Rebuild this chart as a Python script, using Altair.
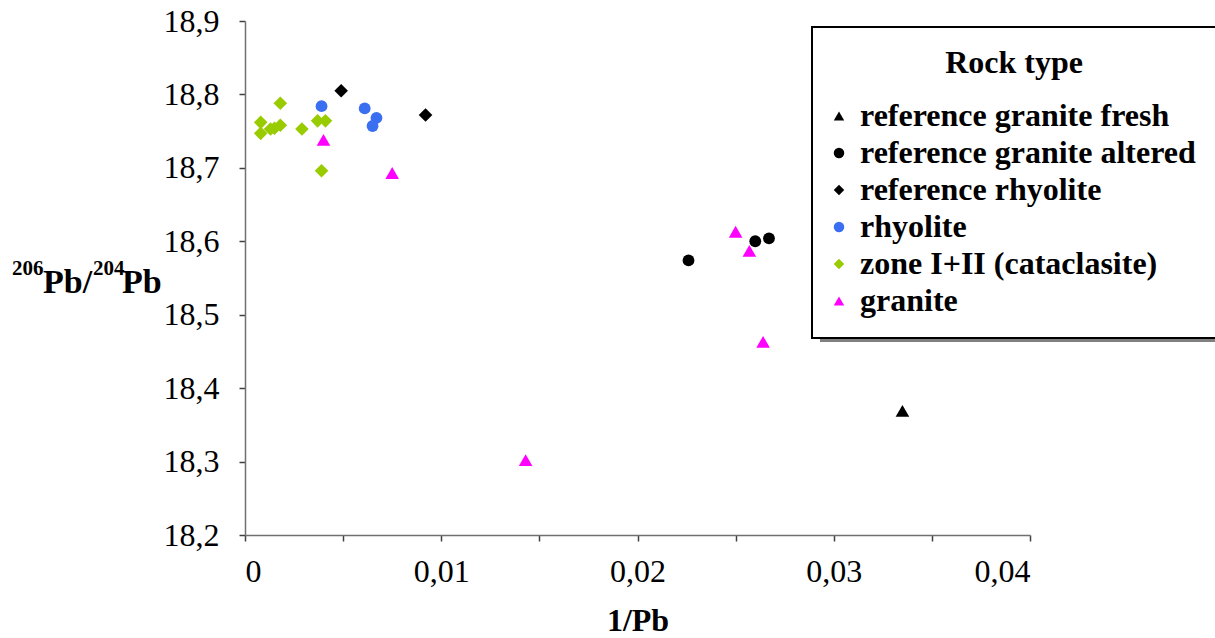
import altair as alt
import pandas as pd

# ---- data ----
categories = ["reference granite fresh", "reference granite altered", "reference rhyolite",
              "rhyolite", "zone I+II (cataclasite)", "granite"]
shapes = ["triangle-up", "circle", "diamond", "circle", "diamond", "triangle-up"]
colors = ["#000000", "#000000", "#000000", "#3b6ff2", "#99cc00", "#ff00ff"]

ref_granite_fresh_x = [0.0335]
ref_granite_fresh_y = [18.369]

ref_granite_altered_x = [0.0226, 0.0260, 0.0267]
ref_granite_altered_y = [18.574, 18.600, 18.604]

ref_rhyolite_x = [0.0049, 0.0092]
ref_rhyolite_y = [18.805, 18.772]

rhyolite_x = [0.0039, 0.0061, 0.0067, 0.0065]
rhyolite_y = [18.784, 18.781, 18.768, 18.757]

zone_x = [0.0008, 0.0008, 0.0013, 0.0015, 0.0018, 0.0018, 0.0029, 0.0037, 0.0041, 0.0039]
zone_y = [18.762, 18.747, 18.753, 18.754, 18.758, 18.788, 18.753, 18.764, 18.764, 18.696]

granite_x = [0.0040, 0.0075, 0.0143, 0.0250, 0.0257, 0.0264]
granite_y = [18.738, 18.693, 18.302, 18.613, 18.587, 18.463]

series = [
    (categories[0], ref_granite_fresh_x, ref_granite_fresh_y),
    (categories[1], ref_granite_altered_x, ref_granite_altered_y),
    (categories[2], ref_rhyolite_x, ref_rhyolite_y),
    (categories[3], rhyolite_x, rhyolite_y),
    (categories[4], zone_x, zone_y),
    (categories[5], granite_x, granite_y),
]
rows = []
for name, xs, ys in series:
    for xv, yv in zip(xs, ys):
        rows.append({"type": name, "invPb": xv, "ratio": yv,
                     "round": shapes[categories.index(name)] == "circle"})
df = pd.DataFrame(rows)

x_ticks = [0, 0.005, 0.01, 0.015, 0.02, 0.025, 0.03, 0.035, 0.04]
y_ticks = [18.2, 18.3, 18.4, 18.5, 18.6, 18.7, 18.8, 18.9]

# y-axis title pieces (206Pb/204Pb with superscripts)
ytitle_text = ["206", "Pb/", "204", "Pb"]
ytitle_size = [21, 34, 21, 34]
ytitle_x = [-233, -202, -152, -123]
ytitle_y = [254, 272, 254, 272]

FONT = "Liberation Serif"
W, H = 785, 514
LX, LY = 567, 6          # legend position inside plot coords
LW, LH = 401, 307        # legend box size (for shadow)
SH = 8                   # shadow offset

legend = alt.Legend(orient="none", legendX=LX, legendY=LY, symbolSize=110,
                    symbolOffset=-10)

base = alt.Chart(df).encode(
    x=alt.X("invPb:Q", title="1/Pb",
            scale=alt.Scale(domain=[0, 0.04], nice=False, zero=False),
            axis=alt.Axis(values=x_ticks,
                          labelExpr="round(datum.value*1000) % 10 != 0 ? '' : (datum.value == 0 ? '0' : replace(format(datum.value, '.2f'), '.', ','))")),
    y=alt.Y("ratio:Q", title=None,
            scale=alt.Scale(domain=[18.2, 18.9], nice=False, zero=False),
            axis=alt.Axis(values=y_ticks,
                          labelExpr="replace(format(datum.value, '.1f'), '.', ',')")),
    color=alt.Color("type:N", title="Rock type",
                    scale=alt.Scale(domain=categories, range=colors), legend=legend),
    shape=alt.Shape("type:N", title="Rock type",
                    scale=alt.Scale(domain=categories, range=shapes), legend=legend),
)
pts_round = base.transform_filter("datum.round").mark_point(filled=True, opacity=1, size=140)
pts_other = base.transform_filter("!datum.round").mark_point(filled=True, opacity=1, size=185)

shadow = alt.Chart(pd.DataFrame({"k": [0]})).mark_rect(color="#808080").encode(
    x=alt.value(LX + SH), x2=alt.value(LX + LW + SH),
    y=alt.value(LY + SH), y2=alt.value(LY + LH + SH),
)

title_layers = []
for t, s, xx, yy in zip(ytitle_text, ytitle_size, ytitle_x, ytitle_y):
    title_layers.append(
        alt.Chart(pd.DataFrame({"t": [t]})).mark_text(
            font=FONT, fontSize=s, fontWeight="bold", color="black",
            align="left", baseline="alphabetic",
        ).encode(text="t:N", x=alt.value(xx), y=alt.value(yy))
    )

chart = alt.layer(shadow, pts_other, pts_round, *title_layers).properties(
    width=W, height=H,
    autosize=alt.AutoSizeParams(type="none"),
    padding={"left": 245, "top": 21, "right": 185, "bottom": 103},
).configure_view(stroke=None).configure_axis(
    grid=False,
    domainColor="#707070", domainWidth=1.5,
    tickColor="#404040", tickSize=6, tickWidth=1.5,
    labelFont=FONT, labelFontSize=32, labelColor="black",
    titleFont=FONT, titleFontSize=32, titleFontWeight="bold", titleColor="black",
).configure_axisY(labelPadding=20).configure_axisX(labelPadding=15, titlePadding=18).configure_legend(
    strokeColor="black", strokeWidth=2, fillColor="white", padding=21,
    titleFont=FONT, titleFontSize=32, titleFontWeight="bold", titleColor="black",
    titleAnchor="middle", titlePadding=20,
    labelFont=FONT, labelFontSize=32, labelFontWeight="bold", labelColor="black",
    rowPadding=5, labelOffset=5, labelLimit=600,
    symbolStrokeWidth=0,
)

chart.save("out.html", embed_options={"renderer": "svg", "actions": False})
